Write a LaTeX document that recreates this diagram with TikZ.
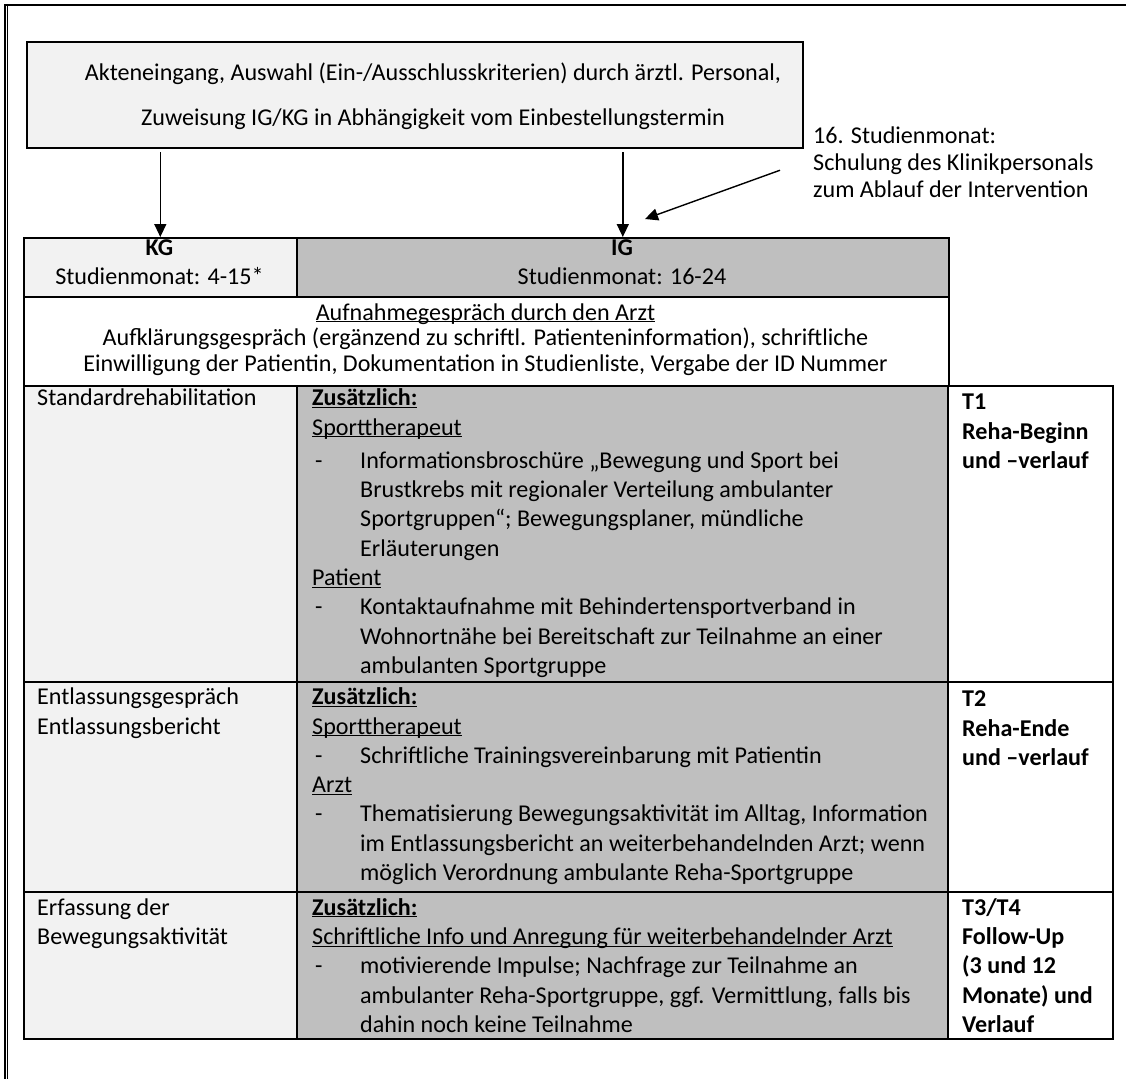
\documentclass[tikz,border=0pt]{standalone}
\usepackage{fontspec}
\setmainfont{Carlito}
\usetikzlibrary{arrows.meta}
\definecolor{kggray}{HTML}{F2F2F2}
\definecolor{iggray}{HTML}{BFBFBF}
\newcommand{\tabfont}{\fontsize{24.1}{29.3}\selectfont}
\newcommand{\ulnd}[1]{\underline{\smash{#1}}}
\newcommand{\listind}[1]{\makebox[48pt][l]{\hspace{3pt}#1}}
\begin{document}
\begin{tikzpicture}[x=1pt, y=-1pt, >={Triangle[length=13pt,width=12pt]},
  cell/.style={draw, line width=1.6pt, anchor=north west, inner sep=0pt},
  kgcell/.style={cell, fill=kggray, minimum width=273pt},
  igcell/.style={cell, fill=iggray, minimum width=651pt},
  tcell/.style={cell, fill=white, minimum width=165pt},
  txt/.style={inner sep=0pt, font=\tabfont},
  link/.style={->, line width=1.4pt}]
\useasboundingbox (0,0) rectangle (1126,1079);

% page frame
\draw[line width=2pt] (5,4.5) -- (1126,4.5);
\draw[line width=1.2pt] (5,4) -- (5,1079);
\draw[line width=1pt] (7.8,6) -- (7.8,1079);

% selection box
\node[cell, fill=kggray, line width=2pt, minimum width=776pt, minimum height=106pt, outer sep=4pt] (select) at (23,38) {};
\node[txt, align=center, anchor=north] (selecttext) at (433,60)
  {\strut Akteneingang, Auswahl (Ein-/Ausschlusskriterien) durch ärztl. Personal,\\[15.7pt]
   Zuweisung IG/KG in Abhängigkeit vom Einbestellungstermin};

% training note
\node[txt, align=left, anchor=north west, font=\fontsize{24.1}{27}\selectfont] (note) at (813,124.5)
  {\strut 16. Studienmonat:\\Schulung des Klinikpersonals\\zum Ablauf der Intervention};

% table cells
\node[kgcell, minimum height=59pt] (kghead) at (23,237) {};
\node[igcell, minimum height=59pt, minimum width=652pt] (ighead) at (296,237) {};
\node[cell, fill=white, minimum width=925pt, minimum height=89pt] (admission) at (23,296) {};
\node[kgcell, minimum height=296pt] (kgA) at (23,385) {};
\node[igcell, minimum height=296pt] (igA) at (296,385) {};
\node[tcell, minimum height=296pt] (tA) at (947,385) {};
\node[kgcell, minimum height=210pt] (kgB) at (23,681) {};
\node[igcell, minimum height=210pt] (igB) at (296,681) {};
\node[tcell, minimum height=210pt] (tB) at (947,681) {};
\node[kgcell, minimum height=147pt] (kgC) at (23,891) {};
\node[igcell, minimum height=147pt] (igC) at (296,891) {};
\node[tcell, minimum height=147pt] (tC) at (947,891) {};

% header texts
\node[txt, align=center, anchor=north] (kgheadtext) at (159.5,234.5)
  {\strut\textbf{KG}\\Studienmonat: 4-15*};
\node[txt, align=center, anchor=north] (igheadtext) at (622,234.5)
  {\strut\textbf{IG}\\Studienmonat: 16-24};
\node[txt, align=center, anchor=north, font=\fontsize{24.1}{25.5}\selectfont] (admissiontext) at (485.5,302)
  {\strut\ulnd{Aufnahmegespräch durch den Arzt}\\
   Aufklärungsgespräch (ergänzend zu schriftl. Patienteninformation), schriftliche\\
   Einwilligung der Patientin, Dokumentation in Studienliste, Vergabe der ID Nummer};

% control group column
\node[txt, align=left, anchor=north west] (kgAtext) at (37,385) {\strut Standardrehabilitation};
\node[txt, align=left, anchor=north west] (kgBtext) at (37,684)
  {\strut Entlassungsgespräch\\Entlassungsbericht};
\node[txt, align=left, anchor=north west] (kgCtext) at (37,894.5)
  {\strut Erfassung der\\Bewegungsaktivität};

% intervention group column
\node[txt, align=left, anchor=north west] (igAtext) at (312,385)
  {\strut\textbf{\ulnd{Zusätzlich:}}\\
   \ulnd{Sporttherapeut}\\[4pt]
   \listind{-}Informationsbroschüre „Bewegung und Sport bei\\
   \listind{}Brustkrebs mit regionaler Verteilung ambulanter\\
   \listind{}Sportgruppen“; Bewegungsplaner, mündliche\\
   \listind{}Erläuterungen\\
   \ulnd{Patient}\\
   \listind{-}Kontaktaufnahme mit Behindertensportverband in\\
   \listind{}Wohnortnähe bei Bereitschaft zur Teilnahme an einer\\
   \listind{}ambulanten Sportgruppe};
\node[txt, align=left, anchor=north west] (igBtext) at (312,684)
  {\strut\textbf{\ulnd{Zusätzlich:}}\\
   \ulnd{Sporttherapeut}\\
   \listind{-}Schriftliche Trainingsvereinbarung mit Patientin\\
   \ulnd{Arzt}\\
   \listind{-}Thematisierung Bewegungsaktivität im Alltag, Information\\
   \listind{}im Entlassungsbericht an weiterbehandelnden Arzt; wenn\\
   \listind{}möglich Verordnung ambulante Reha-Sportgruppe};
\node[txt, align=left, anchor=north west] (igCtext) at (312,894.5)
  {\strut\textbf{\ulnd{Zusätzlich:}}\\
   \ulnd{Schriftliche Info und Anregung für weiterbehandelnder Arzt}\\
   \listind{-}motivierende Impulse; Nachfrage zur Teilnahme an\\
   \listind{}ambulanter Reha-Sportgruppe, ggf. Vermittlung, falls bis\\
   \listind{}dahin noch keine Teilnahme};

% time points
\node[txt, align=left, anchor=north west, font=\tabfont\bfseries] (tAtext) at (962,389)
  {\strut T1\\Reha-Beginn\\und –verlauf};
\node[txt, align=left, anchor=north west, font=\tabfont\bfseries] (tBtext) at (962,686)
  {\strut T2\\Reha-Ende\\und –verlauf};
\node[txt, align=left, anchor=north west, font=\tabfont\bfseries] (tCtext) at (962,894.5)
  {\strut T3/T4\\Follow-Up\\(3 und 12\\Monate) und\\Verlauf};

% arrows
\coordinate (igmark) at (645,219);
\draw[link] (select.south -| kghead.north) -- (kghead.north);
\draw[link] (select.south -| ighead.north) -- (ighead.north);
\draw[link] ([shift={(-33pt,-9pt)}]note.west) -- (igmark);
\end{tikzpicture}
\end{document}
